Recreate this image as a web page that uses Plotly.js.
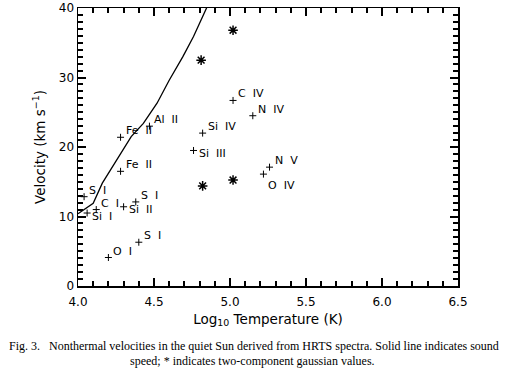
<!DOCTYPE html>
<html>
<head>
<meta charset="utf-8">
<script src="https://cdn.plot.ly/plotly-3.0.1.min.js"></script>
<style>html,body{margin:0;padding:0;background:#fff;}#chart{width:523px;height:387px;}</style>
</head>
<body>
<div id="chart"></div>
<script>
// Single-component line measurements (log T, velocity)
const ionLabels = ["S I","Si I","C I","Si II","S I","S I","O I","Fe II","Fe II","Al II","Si IV","Si III","C IV","N IV","N V","O IV"];
const ionLogT   = [4.04, 4.06, 4.12, 4.30, 4.38, 4.40, 4.20, 4.28, 4.28, 4.47, 4.82, 4.76, 5.02, 5.15, 5.26, 5.22];
const ionVel    = [12.85,10.5, 11.0, 11.4, 12.1, 6.3,  4.1,  16.5, 21.4, 23.0, 22.0, 19.5, 26.7, 24.5, 17.1, 16.1];
// where each label sits relative to its point: "above", "beside" or "below"
const ionLabelSide = ["above","beside","above","beside","above","above","above","above","above","above","above","beside","above","above","above","below"];

// Two-component gaussian values
const twoCompLogT = [4.81, 5.02, 4.82, 5.02];
const twoCompVel  = [32.5, 36.8, 14.4, 15.25];

// Sound speed curve
const soundLogT = [4.00, 4.10, 4.16, 4.30, 4.35, 4.43, 4.52, 4.60, 4.69, 4.76, 4.80, 4.85];
const soundVel  = [10.4, 11.9, 14.8, 19.6, 21.5, 23.4, 26.3, 29.6, 33.0, 35.9, 37.8, 40.2];

// Axis ticks
const xTickVals = [4.0, 4.5, 5.0, 5.5, 6.0, 6.5];
const yTickVals = [0, 10, 20, 30, 40];
const xMinorStep = 0.1;
const yMinorStep = 1;

const captionLine1 = "Fig. 3.\u00a0\u00a0\u00a0Nonthermal velocities in the quiet Sun derived from HRTS spectra. Solid line indicates sound";
const captionLine2 = "speed; * indicates two-component gaussian values.";

const sans = "DejaVu Sans, Verdana, sans-serif";
const serif = "Liberation Serif, Times New Roman, serif";

const sideShift = {above: 6.5, beside: -3, below: -11};

const traces = [
  {
    x: soundLogT, y: soundVel, mode: "lines", type: "scatter",
    line: {color: "#000", width: 1.3}, hoverinfo: "skip", showlegend: false
  },
  {
    x: ionLogT, y: ionVel, mode: "markers", type: "scatter",
    marker: {symbol: "cross-thin", size: 5, color: "#000", line: {color: "#000", width: 1}},
    showlegend: false
  },
  {
    x: twoCompLogT, y: twoCompVel, mode: "markers", type: "scatter",
    marker: {symbol: "asterisk-open", size: 8, color: "#000", line: {color: "#000", width: 1.5}},
    showlegend: false
  }
];

const labelAnnotations = ionLabels.map((t, i) => ({
  x: ionLogT[i], y: ionVel[i], xref: "x", yref: "y",
  text: t.replace(" ", "\u00a0\u00a0"), showarrow: false,
  xanchor: "left", yanchor: "middle", xshift: 3, yshift: sideShift[ionLabelSide[i]],
  font: {family: sans, size: 11, color: "#000"}
}));

const axisCommon = {
  showgrid: false, zeroline: false, showline: true, linecolor: "#000", linewidth: 1.5,
  mirror: "ticks", ticks: "inside", ticklen: 8, tickwidth: 2, tickcolor: "#000",
  tickfont: {family: sans, size: 12, color: "#000"}
};

const layout = {
  width: 523, height: 387,
  margin: {l: 78, r: 65, t: 8, b: 101},
  paper_bgcolor: "#fff", plot_bgcolor: "#fff",
  xaxis: Object.assign({}, axisCommon, {
    range: [xTickVals[0], xTickVals[xTickVals.length - 1]],
    tick0: xTickVals[0], dtick: xTickVals[1] - xTickVals[0], tickformat: ".1f",
    ticklabelstandoff: 4,
    minor: {ticks: "inside", ticklen: 5, tickwidth: 2, tickcolor: "#000", dtick: xMinorStep},
    title: {text: "Log<sub>10</sub> Temperature (K)", font: {family: sans, size: 13.5, color: "#000"}, standoff: 6}
  }),
  yaxis: Object.assign({}, axisCommon, {
    range: [yTickVals[0], yTickVals[yTickVals.length - 1]],
    tick0: yTickVals[0], dtick: yTickVals[1] - yTickVals[0],
    minor: {ticks: "inside", ticklen: 5, tickwidth: 2, tickcolor: "#000", dtick: yMinorStep},
    title: {text: "Velocity (km s<sup>\u22121</sup>)", font: {family: sans, size: 13.5, color: "#000"}, standoff: 10}
  }),
  annotations: labelAnnotations.concat([
    {xref: "paper", yref: "paper", x: 0.463, y: -0.216, xanchor: "center", yanchor: "middle",
     text: captionLine1, showarrow: false, font: {family: serif, size: 12, color: "#000"}},
    {xref: "paper", yref: "paper", x: 0.458, y: -0.270, xanchor: "center", yanchor: "middle",
     text: captionLine2, showarrow: false, font: {family: serif, size: 12, color: "#000"}}
  ])
};

Plotly.newPlot("chart", traces, layout, {staticPlot: true, displayModeBar: false});
</script>
</body>
</html>
